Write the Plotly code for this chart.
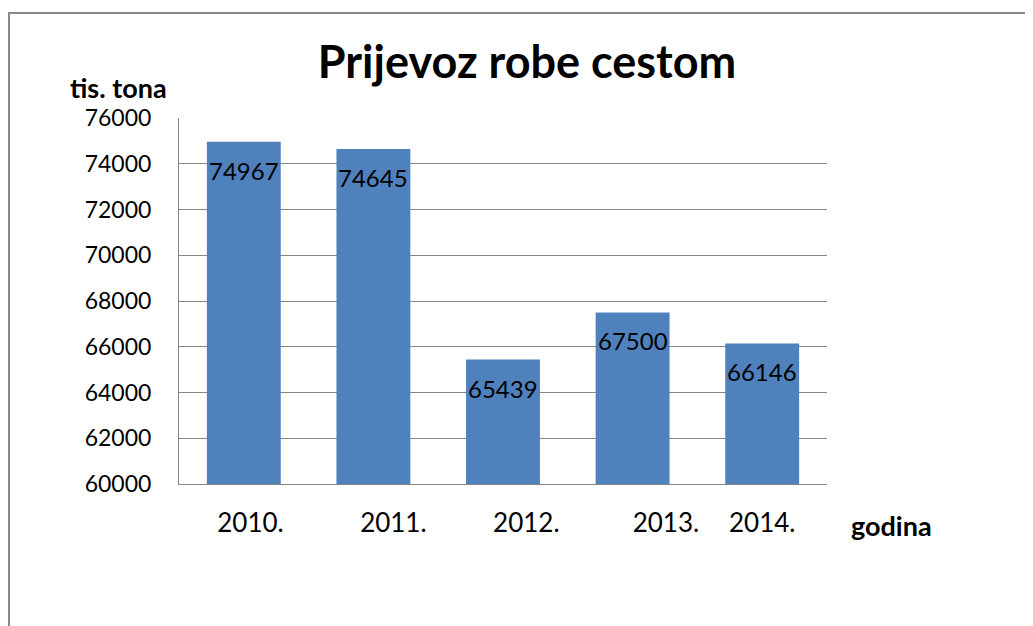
import plotly.graph_objects as go

godine = ["2010.", "2011.", "2012.", "2013.", "2014."]
tone = [74967, 74645, 65439, 67500, 66146]
# pomak natpisa ispod stupaca (kao u originalu, natpisi nisu centrirani)
pomak = [2, 6, 7, 10, 0]

NB = "\u00a0"
FONT = "Lato"
PLAVA = "#4F81BD"
SIVA = "#868686"

# stranica ima 8px margine, pa se sve pomice
OFF = 8
W, H = 1033, 626
L, T = 179 - OFF, 118 - OFF
R, B = W - (827 - OFF), H - (484 - OFF)
pw, ph = W - L - R, H - T - B


def px(x):
    return (x - OFF - L) / pw


def py(y):
    return (H - B - (y - OFF)) / ph


fig = go.Figure()
fig.add_trace(go.Bar(
    x=godine, y=tone, marker_color=PLAVA, marker_line_width=0, width=0.57,
    showlegend=False, hoverinfo="x+y"))

# vrijednosti unutar stupaca, malo ispod vrha (x = redni broj kategorije)
for i, v in enumerate(tone):
    fig.add_annotation(x=i, y=v, text=str(v), showarrow=False,
                       yanchor="top", yshift=-12,
                       font=dict(family=FONT, size=24, color="black"))

fig.update_layout(
    width=W, height=H, margin=dict(l=L, r=R, t=T, b=B),
    plot_bgcolor="white", paper_bgcolor="white",
    font=dict(family=FONT, size=22, color="black"),
    title=dict(text="<b>Prijevoz robe cestom</b>", x=px(527), xref="paper",
               xanchor="center", y=1 - (62 - OFF) / H, yanchor="middle",
               font=dict(family=FONT, size=45, color="black")),
)
fig.update_yaxes(range=[60000, 76000], dtick=2000, showgrid=True, gridcolor=SIVA,
                 gridwidth=1, showline=True, linecolor=SIVA, linewidth=1,
                 ticks="outside", ticklen=22, tickcolor="rgba(0,0,0,0)",
                 tickformat="d", zeroline=False, tickfont=dict(size=23))
fig.update_xaxes(type="category", range=[-0.5, len(godine) - 0.5],
                 showline=True, linecolor=SIVA, linewidth=1,
                 showgrid=False, ticks="outside", ticklen=16,
                 tickcolor="rgba(0,0,0,0)", tickvals=godine, tickangle=0,
                 ticktext=[NB * p + g for g, p in zip(godine, pomak)],
                 tickfont=dict(size=26))

fig.add_annotation(text="<b>tis. tona</b>", xref="paper", yref="paper",
                   x=px(118), y=py(88), showarrow=False,
                   xanchor="center", yanchor="middle",
                   font=dict(family=FONT, size=27, color="black"))
fig.add_annotation(text="<b>godina</b>", xref="paper", yref="paper",
                   x=px(891), y=py(525), showarrow=False,
                   xanchor="center", yanchor="middle",
                   font=dict(family=FONT, size=27, color="black"))

# okvir grafikona
fig.add_shape(type="rect", xref="paper", yref="paper",
              x0=px(9), x1=px(1050), y0=py(650), y1=py(13),
              line=dict(color="#8a8a8a", width=2), fillcolor="rgba(0,0,0,0)", layer="below")

fig.write_html("out.html")
